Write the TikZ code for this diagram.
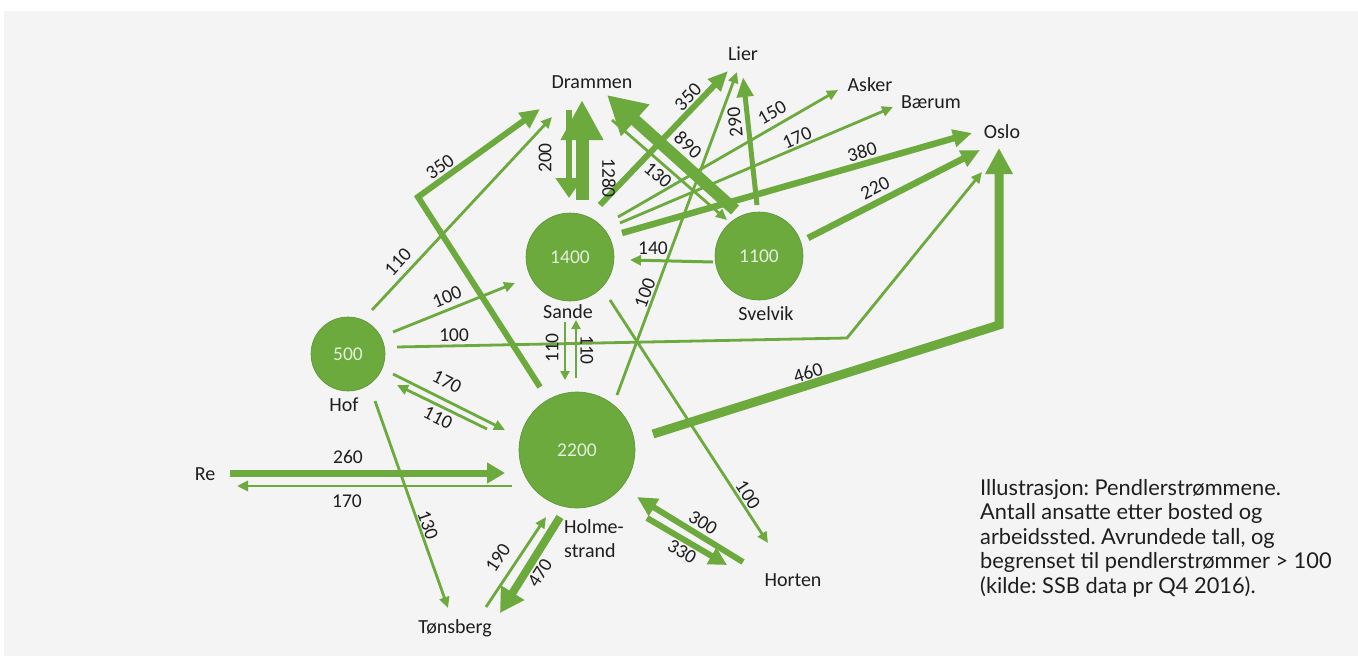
\documentclass[tikz,border=0pt]{standalone}
\usepackage{fontspec}
\setmainfont{Carlito}
\newfontfamily\capfont{Lato}
\usetikzlibrary{arrows.meta}
\definecolor{flow}{HTML}{6CAA3E}
\definecolor{bg}{HTML}{F4F4F4}
\definecolor{ring}{HTML}{5B9234}
\definecolor{numtxt}{HTML}{E4EFDC}
\definecolor{ink}{HTML}{1E1E1E}
\tikzset{
  flowline/.style n args={3}{draw=flow, line width=#1, -{Triangle[length=#2,width=#3]}},
  sm/.style={flowline={2.8pt}{11pt}{10pt}},
  town/.style={circle, fill=flow, draw=ring, line width=0.6pt, text=numtxt, inner sep=0pt, font=\fontsize{19.5}{19.5}\selectfont},
  place/.style={text=ink, inner sep=0pt, font=\fontsize{20}{20}\selectfont},
  num/.style={text=ink, inner sep=0pt, font=\fontsize{19.5}{19.5}\selectfont},
  capline/.style={anchor=base west, text=ink, inner sep=0pt, font=\capfont\fontsize{21.8}{24}\selectfont\frenchspacing}
}
\begin{document}
\begin{tikzpicture}[x=1pt,y=-1pt]
\useasboundingbox (0,0) rectangle (1358,656);
\fill[white] (0,0) rectangle (1358,656);
\fill[bg] (4,11) rectangle (1358,656);

% towns
\node[town, minimum size=74pt] (hof) at (348,354) {500};
\node[town, minimum size=88pt] (sande) at (570,257) {1400};
\node[town, minimum size=88pt] (svelvik) at (759,256) {1100};
\node[town, minimum size=116pt] (holme) at (577,450) {2200};

% place names
\node[place] (hofn) at (344,405) {Hof};
\node[place] (sanden) at (568,312) {Sande};
\node[place] (svelvikn) at (766,314) {Svelvik};
\node[place, align=left, font=\fontsize{20}{24}\selectfont] (holmen) at (594,539) {Holme-\\strand};
\node[place] (drammen) at (592,82) {Drammen};
\node[place] (lier) at (743,54) {Lier};
\node[place] (asker) at (870,85) {Asker};
\node[place] (baerum) at (931,102) {Bærum};
\node[place] (oslo) at (1002,132) {Oslo};
\node[place] (re) at (205,474) {Re};
\node[place] (tonsberg) at (455,628) {Tønsberg};
\node[place] (horten) at (793,580) {Horten};

% connector end points
\coordinate (c01s) at (540,387); \coordinate (c01m) at (418,197); \coordinate (c01e) at (540,109);
\coordinate (c02s) at (372,310); \coordinate (c02e) at (552,117);
\coordinate (c03s) at (393,332); \coordinate (c03e) at (515,283);
\coordinate (c04s) at (397,347); \coordinate (c04m) at (847,338); \coordinate (c04e) at (982,172);
\coordinate (c05s) at (393,374); \coordinate (c05e) at (505,430);
\coordinate (c06s) at (487,429); \coordinate (c06e) at (397,385);
\coordinate (c07s) at (375,401); \coordinate (c07e) at (448,608);
\coordinate (c08s) at (230,473); \coordinate (c08e) at (505,473);
\coordinate (c09s) at (512,486); \coordinate (c09e) at (237,486);
\coordinate (c10s) at (486,607); \coordinate (c10e) at (546,517);
\coordinate (c11s) at (560,517); \coordinate (c11e) at (500,613);
\coordinate (c12s) at (743,562); \coordinate (c12e) at (637,497);
\coordinate (c13s) at (647,518); \coordinate (c13e) at (727,565);
\coordinate (c14s) at (610,300); \coordinate (c14e) at (768,543);
\coordinate (c15s) at (653,434); \coordinate (c15m) at (999,325); \coordinate (c15e) at (999,148);
\coordinate (c16s) at (565,322); \coordinate (c16e) at (565,380);
\coordinate (c17s) at (576,378); \coordinate (c17e) at (576,320);
\coordinate (c18s) at (569,110); \coordinate (c18e) at (569,198);
\coordinate (c19s) at (582,200); \coordinate (c19e) at (582,100);
\coordinate (c20s) at (600,205); \coordinate (c20e) at (728,71);
\coordinate (c21s) at (735,210); \coordinate (c21e) at (607,95);
\coordinate (c22s) at (612,120); \coordinate (c22e) at (727,220);
\coordinate (c23s) at (757,205); \coordinate (c23e) at (743,77);
\coordinate (c24s) at (617,395); \coordinate (c24e) at (737,72);
\coordinate (c25s) at (618,217); \coordinate (c25e) at (838,90);
\coordinate (c26s) at (620,223); \coordinate (c26e) at (893,107);
\coordinate (c27s) at (622,233); \coordinate (c27e) at (972,133);
\coordinate (c28s) at (808,238); \coordinate (c28e) at (980,150);
\coordinate (c29s) at (713,262); \coordinate (c29e) at (630,260);

% connectors
\draw[flowline={6pt}{20pt}{18pt}] (c01s) -- (c01m) -- (c01e);
\draw[sm] (c02s) -- (c02e);
\draw[sm] (c03s) -- (c03e);
\draw[sm] (c04s) -- (c04m) -- (c04e);
\draw[sm] (c05s) -- (c05e);
\draw[sm] (c06s) -- (c06e);
\draw[sm] (c07s) -- (c07e);
\draw[flowline={7pt}{18pt}{20pt}] (c08s) -- (c08e);
\draw[sm] (c09s) -- (c09e);
\draw[sm] (c10s) -- (c10e);
\draw[flowline={8pt}{24pt}{26pt}] (c11s) -- (c11e);
\draw[flowline={6pt}{20pt}{19pt}] (c12s) -- (c12e);
\draw[flowline={6pt}{18pt}{18pt}] (c13s) -- (c13e);
\draw[sm] (c14s) -- (c14e);
\draw[flowline={9pt}{26pt}{26pt}] (c15s) -- (c15m) -- (c15e);
\draw[flowline={2.5pt}{9pt}{9pt}] (c16s) -- (c16e);
\draw[flowline={2.5pt}{9pt}{9pt}] (c17s) -- (c17e);
\draw[flowline={6pt}{20pt}{26pt}] (c18s) -- (c18e);
\draw[flowline={13pt}{40pt}{40pt}] (c19s) -- (c19e);
\draw[flowline={6pt}{20pt}{17pt}] (c20s) -- (c20e);
\draw[flowline={12pt}{38pt}{40pt}] (c21s) -- (c21e);
\draw[sm] (c22s) -- (c22e);
\draw[flowline={5pt}{20pt}{16pt}] (c23s) -- (c23e);
\draw[sm] (c24s) -- (c24e);
\draw[sm] (c25s) -- (c25e);
\draw[sm] (c26s) -- (c26e);
\draw[flowline={6.5pt}{19pt}{17pt}] (c27s) -- (c27e);
\draw[flowline={6.5pt}{19pt}{17pt}] (c28s) -- (c28e);
\draw[flowline={3pt}{11pt}{10pt}] (c29s) -- (c29e);

% flow labels
\node[num, rotate=36] (l01) at (440,167) {350};
\node[num, rotate=47] (l02) at (398,262) {110};
\node[num, rotate=22] (l03) at (447,297) {100};
\node[num, rotate=1] (l04) at (454,335) {100};
\node[num, rotate=-26.6] (l05) at (447,382) {170};
\node[num, rotate=-26.6] (l06) at (438,418) {110};
\node[num, rotate=-70.6] (l07) at (428,525) {130};
\node[num] (l08) at (348,457) {260};
\node[num] (l09) at (347,501) {170};
\node[num, rotate=56] (l10) at (498,558) {190};
\node[num, rotate=58] (l11) at (540,573) {470};
\node[num, rotate=-31.5] (l12) at (703,523) {300};
\node[num, rotate=-30.4] (l13) at (682,552) {330};
\node[num, rotate=-57] (l14) at (748,495) {100};
\node[num, rotate=17.4] (l15) at (808,373) {460};
\node[num, rotate=90] (l16) at (552,348) {110};
\node[num, rotate=-90] (l17) at (587,350) {110};
\node[num, rotate=90] (l18) at (545,158) {200};
\node[num, rotate=-90] (l19) at (609,178) {1280};
\node[num, rotate=46] (l20) at (688,97) {350};
\node[num, rotate=-42] (l21) at (688,145) {890};
\node[num, rotate=-41] (l22) at (658,175) {130};
\node[num, rotate=96] (l23) at (735,122) {290};
\node[num, rotate=69.6] (l24) at (645,293) {100};
\node[num, rotate=30] (l25) at (772,113) {150};
\node[num, rotate=23] (l26) at (797,138) {170};
\node[num, rotate=16] (l27) at (862,152) {380};
\node[num, rotate=27] (l28) at (875,188) {220};
\node[num] (l29) at (653,248) {140};

% caption
\node[capline] (cap1) at (980,495) {Illustrasjon: Pendlerstrømmene.};
\node[capline] (cap2) at (980,519.5) {Antall ansatte etter bosted og};
\node[capline] (cap3) at (980,544) {arbeidssted. Avrundede tall, og};
\node[capline] (cap4) at (980,568.5) {begrenset til pendlerstrømmer > 100};
\node[capline] (cap5) at (980,593) {(kilde: SSB data pr Q4 2016).};
\end{tikzpicture}
\end{document}
